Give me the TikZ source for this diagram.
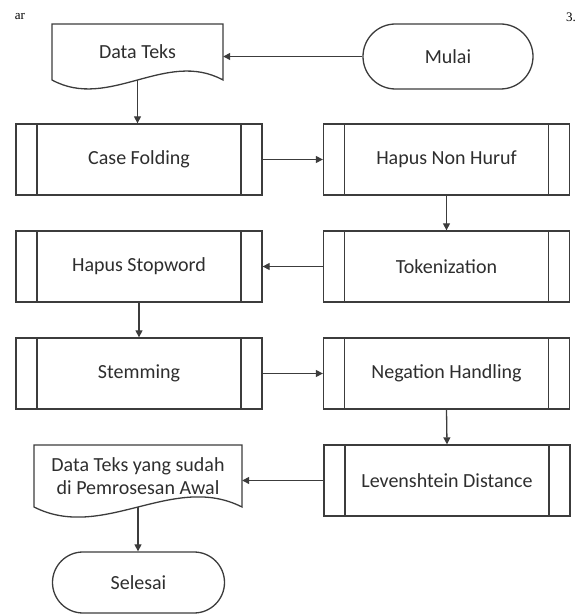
\documentclass[tikz,border=0pt]{standalone}
\usepackage{fontspec}
\setmainfont{Carlito}
\newfontfamily\seriffont{Liberation Serif}
\usetikzlibrary{shapes.misc,arrows.meta}
\definecolor{linegray}{HTML}{3C3C3C}
\definecolor{textgray}{HTML}{2E2E2E}
\begin{document}
\begin{tikzpicture}[x=1pt,y=1pt,
  every node/.style={text=textgray, font=\fontsize{20}{23}\selectfont},
  shapeline/.style={draw=linegray, line width=1.3pt},
  proc/.style={shapeline, fill=white, rectangle, minimum width=246pt, minimum height=71pt, inner sep=0pt,
    path picture={\draw[draw=linegray, line width=1.3pt]
      ([xshift=21pt]path picture bounding box.north west) -- ([xshift=21pt]path picture bounding box.south west)
      ([xshift=-21pt]path picture bounding box.north east) -- ([xshift=-21pt]path picture bounding box.south east);}},
  term/.style={shapeline, rounded rectangle, inner sep=0pt},
  docbox/.style={rectangle, inner sep=0pt, align=center},
  flow/.style={draw=linegray, line width=1.3pt, -{Triangle[length=7pt,width=7pt]}},
  pagetext/.style={font=\seriffont\fontsize{13}{15}\selectfont, text=black}
]
\useasboundingbox (0,0) rectangle (588,614);

% page fragments
\node[pagetext] (ar) at (20,597) {ar};
\node[pagetext] (three) at (571,597) {3.};

% document shapes
\draw[shapeline] (52,590) -- (223,590) -- (223,534) .. controls (166,565) and (109,503) .. (52,534) -- cycle;
\node[docbox, minimum width=171pt, minimum height=56pt] (dt) at (137.5,562) {Data Teks};

\draw[shapeline] (34,169) -- (242,169) -- (242,107) .. controls (173,142) and (103,72) .. (34,107) -- cycle;
\node[docbox, minimum width=208pt, minimum height=62pt] (dt2) at (138,138) {Data Teks yang sudah\\di Pemrosesan Awal};

% terminators
\node[term, minimum width=170pt, minimum height=65pt] (mulai) at (448,557.5) {Mulai};
\node[term, minimum width=172pt, minimum height=61pt] (sel) at (138.5,31.5) {Selesai};

% processes
\node[proc] (cf) at (139,454.5) {Case Folding};
\node[proc] (hnh) at (446.5,454.5) {Hapus Non Huruf};
\node[proc] (hs) at (139,347.5) {Hapus Stopword};
\node[proc] (tok) at (446.5,347.5) {Tokenization};
\node[proc] (stem) at (139,240.5) {Stemming};
\node[proc] (neg) at (446.5,240.5) {Negation Handling};
\node[proc] (lev) at (447,133.5) {Levenshtein Distance};

% connectors
\draw[flow] (mulai.west) -- (mulai.west -| dt.east);
\draw[flow] (dt.south) -- (dt.south |- cf.north);
\draw[flow] (cf.east) -- (hnh.west);
\draw[flow] (hnh.south) -- (tok.north);
\draw[flow] (tok.west) -- (hs.east);
\draw[flow] (hs.south) -- (stem.north);
\draw[flow] (stem.east) -- (neg.west);
\draw[flow] (neg.south) -- (lev.north);
\draw[flow] (lev.west) -- (lev.west -| dt2.east);
\draw[flow] (dt2.south) -- (dt2.south |- sel.north);
\end{tikzpicture}
\end{document}
